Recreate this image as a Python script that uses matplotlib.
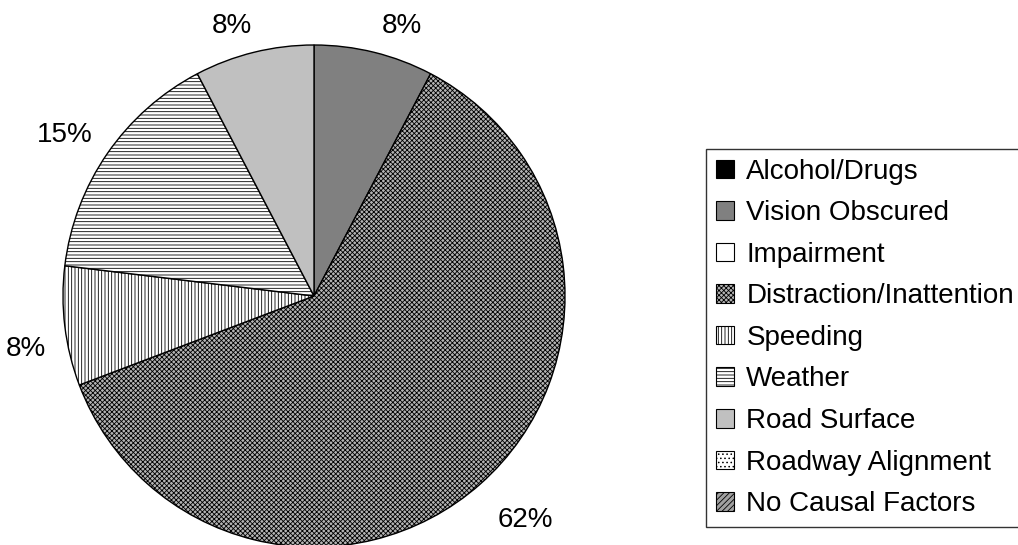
import matplotlib
matplotlib.use("Agg")
import numpy as np
import matplotlib.pyplot as plt
import matplotlib.transforms as mtransforms
from matplotlib.patches import Patch

plt.rcParams['font.family'] = ['Liberation Sans', 'DejaVu Sans']
plt.rcParams['hatch.linewidth'] = 0.6

# Crash causal factors (counts, 13 crashes total)
categories = ["Alcohol/Drugs", "Vision Obscured", "Impairment",
              "Distraction/Inattention", "Speeding", "Weather",
              "Road Surface", "Roadway Alignment", "No Causal Factors"]
counts = [0, 1, 0, 8, 1, 2, 1, 0, 0]

# fill style per category: (facecolor, hatch)
styles = {
    "Alcohol/Drugs": ("black", None),
    "Vision Obscured": ("#808080", None),
    "Impairment": ("white", None),
    "Distraction/Inattention": ("#b4b4b4", "xxxxxxx"),
    "Speeding": ("white", "|||||"),
    "Weather": ("white", "-----"),
    "Road Surface": ("#c0c0c0", None),
    "Roadway Alignment": ("white", "...."),
    "No Causal Factors": ("#a0a0a0", "//////"),
}

FS = 20
W, H = 1018, 545
fig = plt.figure(figsize=(W / 100, H / 100), dpi=100)

# pie centre (314, 296) px, radius 251 px
cx, cy, r = 314, 296, 251
ax = fig.add_axes([(cx - r) / W, (H - cy - r) / H, 2 * r / W, 2 * r / H])

vals = [c for c in counts if c > 0]
cats = [k for k, c in zip(categories, counts) if c > 0]
total = sum(vals)
labels = [f"{round(100 * v / total):.0f}%" for v in vals]

wedges, _ = ax.pie(vals, startangle=90, counterclock=False,
                   colors=[styles[k][0] for k in cats],
                   wedgeprops=dict(edgecolor="black", linewidth=1.0))
# labels sit a little low, like the spreadsheet output
lab_tr = mtransforms.offset_copy(ax.transData, fig=fig, x=2, y=-5, units="points")
for w, k, lab in zip(wedges, cats, labels):
    if styles[k][1]:
        w.set_hatch(styles[k][1])
    # label outside the slice, nearest corner of text toward the pie
    ang = np.deg2rad((w.theta1 + w.theta2) / 2)
    x, y = 1.085 * np.cos(ang), 1.085 * np.sin(ang)
    ax.text(x, y, lab, fontsize=FS, transform=lab_tr,
            ha="left" if x > 0 else "right",
            va="bottom" if y > 0 else "top")
ax.set_xlim(-1, 1)
ax.set_ylim(-1, 1)
ax.set_aspect("equal")

handles = [Patch(facecolor=styles[k][0], hatch=styles[k][1], edgecolor="black",
                 linewidth=0.8) for k in categories]
leg = fig.legend(handles, categories, loc="upper left",
                 bbox_to_anchor=(706 / W, 1 - 149 / H), fontsize=FS,
                 frameon=True, fancybox=False, edgecolor="black",
                 handlelength=0.65, handleheight=0.65, handletextpad=0.45,
                 labelspacing=0.56, borderpad=0.35, borderaxespad=0)
leg.get_frame().set_linewidth(1.0)

fig.savefig("out.png", dpi=100)
